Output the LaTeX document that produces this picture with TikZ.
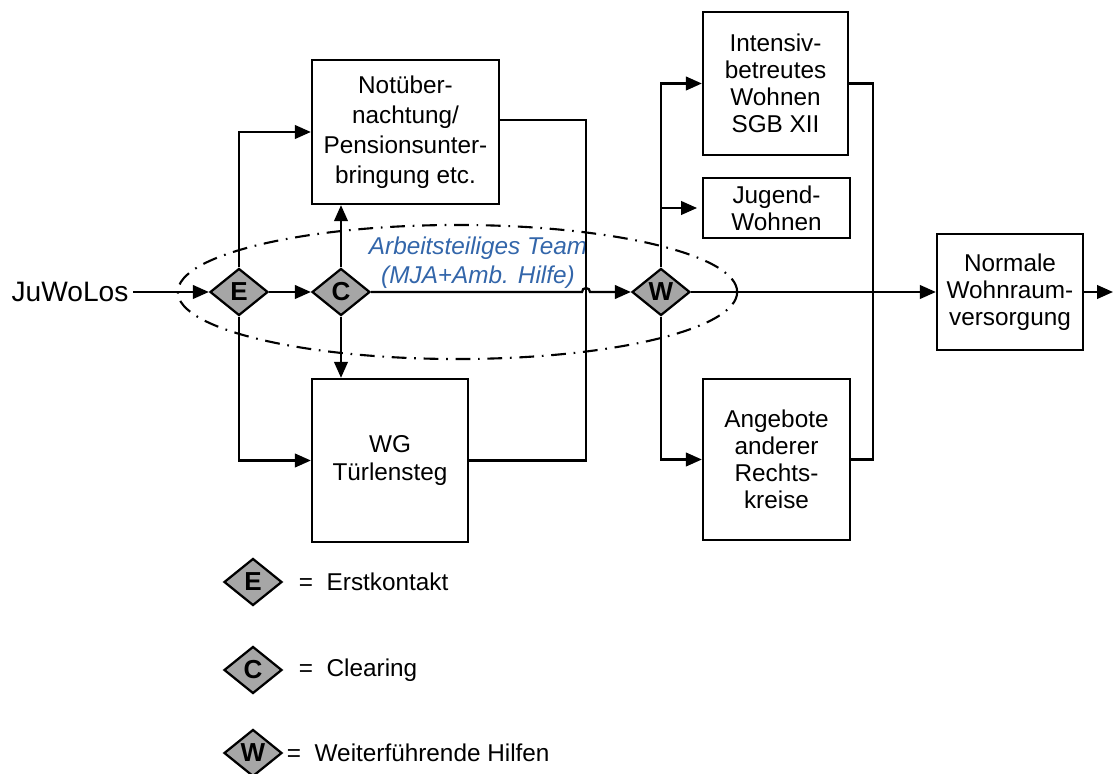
\documentclass[tikz,border=0pt]{standalone}
\usepackage{fontspec}
\setmainfont{Liberation Sans}
\usepackage{tikz}
\usetikzlibrary{positioning,arrows.meta,shapes.geometric}
\definecolor{teamblue}{RGB}{51,102,170}

\begin{document}
\begin{tikzpicture}[
    x=0.025cm, y=-0.025cm,
    font=\fontsize{17.3}{19.3}\selectfont,
    box/.style={rectangle, draw=black, line width=1.6pt, align=center, inner sep=0pt, fill=white},
    decision/.style={diamond, draw=black, line width=1.6pt, fill=black!35, inner sep=0pt, minimum width=1.45cm, minimum height=1.175cm, font=\fontsize{18.5}{19.3}\selectfont\bfseries},
    flow/.style={-{Triangle[length=4mm,width=3.4mm]}, line width=1.6pt},
    link/.style={line width=1.6pt},
    team/.style={dash pattern=on 10.5pt off 5.5pt on 1.2pt off 5.5pt, line width=1.5pt}
]
\useasboundingbox (0,0) rectangle (1113,774);

\draw[team] (457.5,292) ellipse [x radius=6.99cm, y radius=1.675cm];

\node[font=\fontsize{20}{22}\selectfont] (JuWoLos) at (70,292) {JuWoLos};
\node[decision] (E) at (239,292) {E};
\node[decision] (C) at (341,292) {C};
\node[decision] (W) at (661,292) {W};

\node[box, minimum width=4.675cm, minimum height=3.6cm, font=\fontsize{17.3}{21.3}\selectfont] (Notunt) at (405.5,132) {Notüber-\\nachtung/\\Pensionsunter-\\bringung etc.};
\node[box, minimum width=3.9cm, minimum height=4.075cm] (WG) at (390,460.5) {WG\\Türlensteg};
\node[box, minimum width=3.625cm, minimum height=3.575cm] (Intensiv) at (775.5,83.5) {Intensiv-\\betreutes\\Wohnen\\SGB XII};
\node[box, minimum width=3.675cm, minimum height=1.5cm] (Jugend) at (776.5,208) {Jugend-\\Wohnen};
\node[box, minimum width=3.675cm, minimum height=4.025cm] (Angebote) at (776.5,459.5) {Angebote\\anderer\\Rechts-\\kreise};
\node[box, minimum width=3.65cm, minimum height=2.9cm] (Normal) at (1010,292) {Normale\\Wohnraum-\\versorgung};

\node[text=teamblue, font=\fontsize{17.3}{20.6}\selectfont\itshape, align=center] (Team) at (478,263) {Arbeitsteiliges Team\\(MJA+Amb. Hilfe)};

\coordinate (hop) at (582,292);
\coordinate (NotuntOut) at (499,120);
\coordinate (out) at (1113,292);

\draw[flow] (JuWoLos.east) -- (E.west);
\draw[flow] (E.east) -- (C.west);
\draw[flow] (E.north) |- (Notunt.west);
\draw[flow] (E.south) |- (WG.west);
\draw[flow] (C.north) -- (C.north |- Notunt.south);
\draw[flow] (C.south) -- (C.south |- WG.north);
\draw[flow] (C.east) -- (hop) arc[start angle=180, end angle=0, radius=0.1cm] -- (W.west);
\draw[link] (NotuntOut) -- ++(87,0) |- (WG.east);
\draw[flow] (W.north) |- (Intensiv.west);
\draw[flow, shorten >=0.12cm] (W.north |- Jugend.west) -- (Jugend.west);
\draw[flow] (W.south) |- (Angebote.west);
\draw[link] (Intensiv.east) -- ++(24,0) |- (Angebote.east);
\draw[flow] (W.east) -- (Normal.west);
\draw[flow] (Normal.east) -- (out);

% legend
\node[decision] (legE) at (253,582) {E};
\node[decision] (legC) at (253,670) {C};
\node[decision] (legW) at (253,753) {W};
\node[anchor=west] (legEtext) at (294,582) {=~~Erstkontakt};
\node[anchor=west] (legCtext) at (294,670) {=~~Clearing};
\node[anchor=west] (legWtext) at (282,753) {=~~Weiterführende Hilfen};
\end{tikzpicture}
\end{document}
